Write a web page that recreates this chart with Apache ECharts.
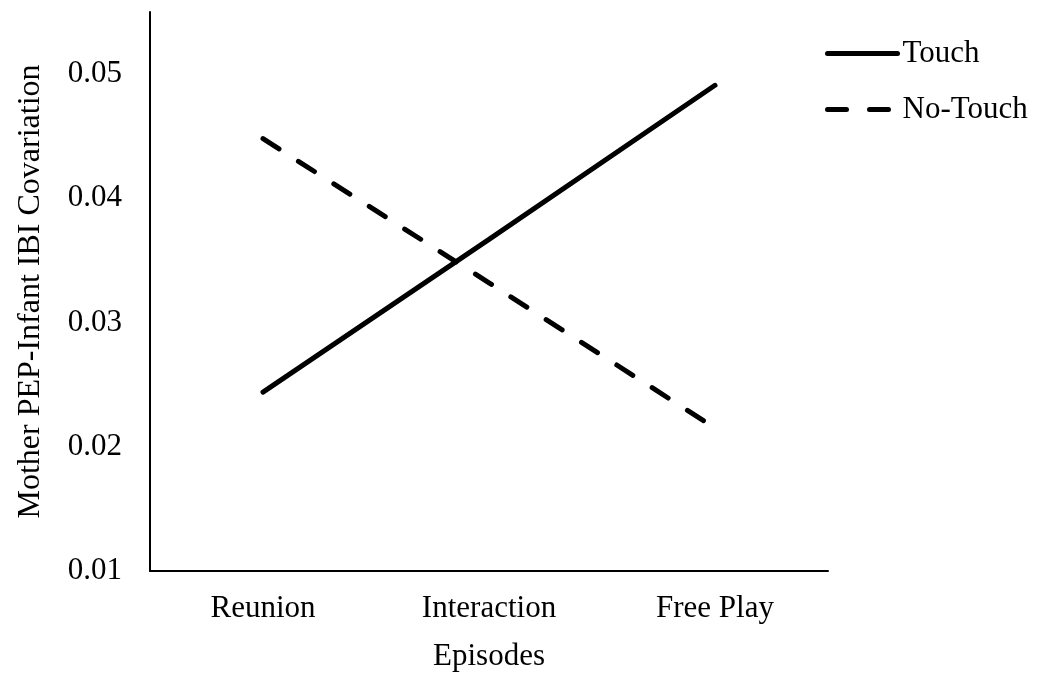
<!DOCTYPE html>
<html>
<head>
<meta charset="utf-8">
<script src="https://cdn.jsdelivr.net/npm/echarts@6/dist/echarts.min.js"></script>
<style>
  html, body { margin: 0; padding: 0; background: #fff; }
  #chart { width: 1045px; height: 675px; }
</style>
</head>
<body>
<div id="chart"></div>
<script>
const episodes = ['Reunion', 'Interaction', 'Free Play'];
const touch = [0.0244, 0.0367, 0.0491];
const noTouch = [0.0448, 0.0332, 0.0215];
const yTicks = [0.01, 0.02, 0.03, 0.04, 0.05];

const font = 'Liberation Serif';
const chart = echarts.init(document.getElementById('chart'));

chart.setOption({
  backgroundColor: '#fff',
  animation: false,
  textStyle: { fontFamily: font, color: '#000' },
  grid: { left: 150, right: 217, top: 12, bottom: 104, outerBoundsMode: 'none' },
  legend: {
    orient: 'vertical',
    left: 820,
    top: 33,
    itemWidth: 70,
    itemHeight: 14,
    itemGap: 25,
    itemStyle: { opacity: 0 },
    lineStyle: { width: 5, cap: 'round' },
    textStyle: { fontFamily: font, fontSize: 31, color: '#000' },
    data: ['Touch', 'No-Touch']
  },
  xAxis: {
    type: 'category',
    data: episodes,
    name: 'Episodes',
    nameLocation: 'middle',
    nameGap: 70,
    nameTextStyle: { fontFamily: font, fontSize: 31, color: '#000' },
    axisLine: { lineStyle: { color: '#000', width: 2 } },
    axisTick: { show: false },
    axisLabel: { fontFamily: font, fontSize: 31, color: '#000', margin: 22 }
  },
  yAxis: {
    type: 'value',
    min: 0.01,
    max: 0.055,
    interval: 0.01,
    name: 'Mother PEP-Infant IBI Covariation',
    nameLocation: 'middle',
    nameGap: 103,
    nameTextStyle: { fontFamily: font, fontSize: 32, color: '#000' },
    axisLine: { show: true, lineStyle: { color: '#000', width: 2 } },
    axisTick: { show: false },
    splitLine: { show: false },
    axisLabel: {
      fontFamily: font, fontSize: 31, color: '#000', margin: 28,
      showMaxLabel: false,
      formatter: v => yTicks.some(t => Math.abs(t - v) < 1e-9) ? v.toFixed(2) : ''
    }
  },
  series: [
    {
      name: 'Touch',
      type: 'line',
      data: touch,
      symbol: 'none',
      lineStyle: { color: '#000', width: 5, cap: 'round' },
      itemStyle: { color: '#000' }
    },
    {
      name: 'No-Touch',
      type: 'line',
      data: noTouch,
      symbol: 'none',
      lineStyle: { color: '#000', width: 5, type: [19, 23], cap: 'round' },
      itemStyle: { color: '#000' }
    }
  ]
});
</script>
</body>
</html>
